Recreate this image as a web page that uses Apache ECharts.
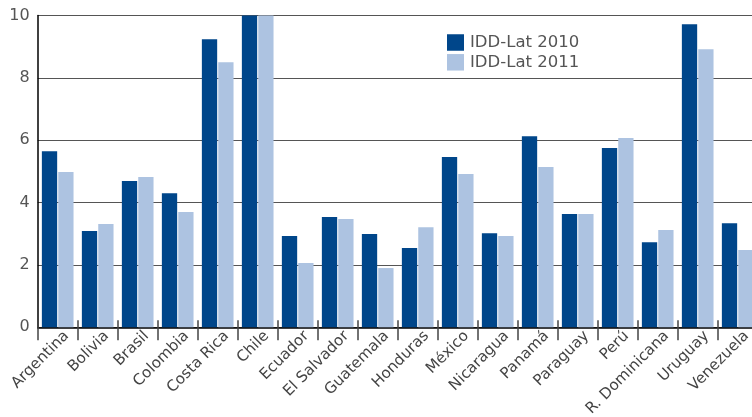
<!DOCTYPE html>
<html>
<head>
<meta charset="utf-8">
<script src="https://cdn.jsdelivr.net/npm/echarts@6/dist/echarts.min.js"></script>
<style>html,body{margin:0;padding:0;background:#fff;}#c{width:752px;height:417px;}</style>
</head>
<body>
<div id="c"></div>
<script>
var categories = ['Argentina','Bolivia','Brasil','Colombia','Costa Rica','Chile','Ecuador','El Salvador','Guatemala','Honduras','México','Nicaragua','Panamá','Paraguay','Perú','R. Dominicana','Uruguay','Venezuela'];
var idd2010 = [5.65,3.09,4.69,4.30,9.24,10,2.93,3.54,2.99,2.54,5.46,3.02,6.13,3.63,5.75,2.73,9.72,3.34];
var idd2011 = [4.98,3.31,4.82,3.70,8.50,10,2.06,3.47,1.90,3.21,4.92,2.93,5.14,3.63,6.07,3.12,8.92,2.48];
var yTicks = [0,2,4,6,8,10];

var chart = echarts.init(document.getElementById('c'), null, {renderer:'canvas'});
var font = 'DejaVu Sans';
chart.setOption({
  animation:false,
  backgroundColor:'#fff',
  textStyle:{fontFamily:font},
  grid:{left:37.7, top:15.5, right:-5.7, bottom:89.7, containLabel:false, outerBoundsMode:'none'},
  legend:{
    orient:'vertical', left:442, top:29,
    itemWidth:17, itemHeight:16.5, itemGap:2.8,
    icon:'rect',
    textStyle:{fontFamily:font, fontSize:16.5, color:'#555', padding:[0,0,0,1]},
    data:['IDD-Lat 2010','IDD-Lat 2011']
  },
  xAxis:[{
    type:'category', data:categories, position:'bottom',
    axisLine:{show:true, lineStyle:{color:'#000', width:1.5}},
    axisTick:{show:true, interval:0, length:13, lineStyle:{color:'#444', width:1.5}},
    axisLabel:{rotate:45, fontFamily:font, fontSize:15.2, color:'#444', margin:-2.5, interval:0, verticalAlign:'top', padding:[5,0,0,0]},
    splitLine:{show:false}
  },{
    type:'category', data:categories, position:'bottom',
    axisLine:{show:false},
    axisTick:{show:true, interval:0, inside:true, length:7, lineStyle:{color:'#444', width:1.5}},
    axisLabel:{show:false},
    splitLine:{show:false}
  }],
  yAxis:{
    type:'value', min:yTicks[0], max:yTicks[yTicks.length-1], interval:2,
    axisLine:{show:true, lineStyle:{color:'#000', width:1.5}},
    axisTick:{show:false},
    axisLabel:{fontFamily:font, fontSize:16, color:'#555', margin:8},
    splitLine:{show:true, lineStyle:{color:'#555', width:1.2}}
  },
  series:[{
    name:'IDD-Lat 2010', type:'bar', data:idd2010,
    barWidth:15.3, barGap:'7%',
    itemStyle:{color:'#00468a'}
  },{
    name:'IDD-Lat 2011', type:'bar', data:idd2011,
    barWidth:15.3, barGap:'7%',
    itemStyle:{color:'#adc3e1'}
  }]
});
</script>
</body>
</html>
